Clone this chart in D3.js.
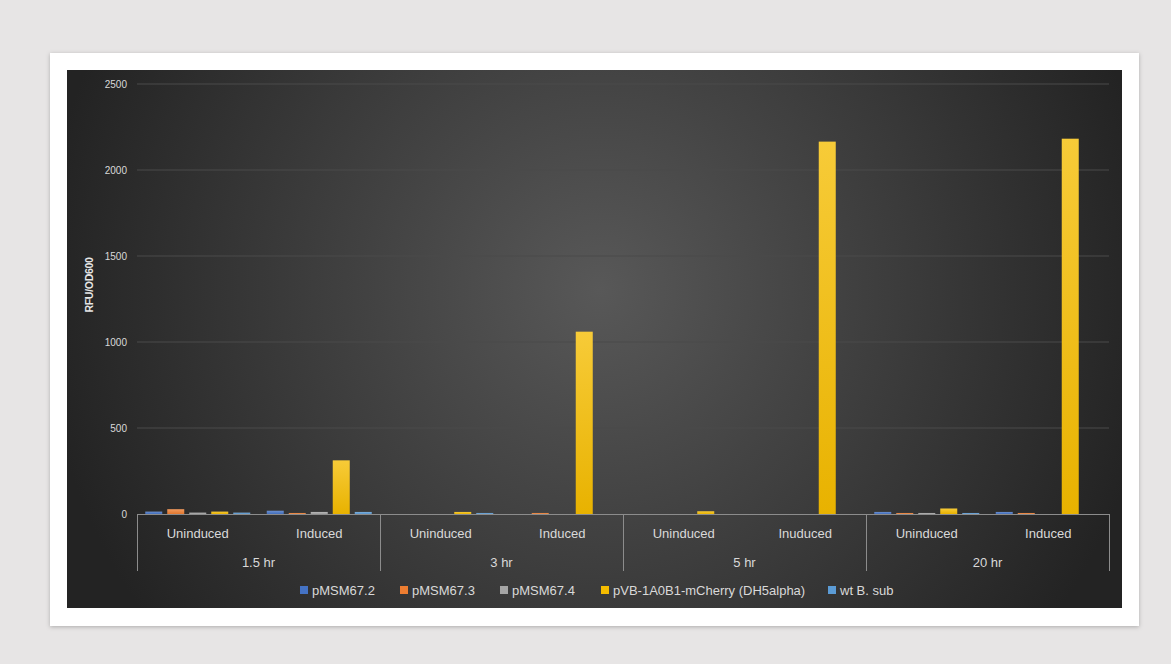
<!DOCTYPE html>
<html>
<head>
<meta charset="utf-8">
<script src="https://cdn.jsdelivr.net/npm/d3@7"></script>
<style>
  body { margin: 0; background: #e7e5e5; }
  svg text { font-family: "Liberation Sans", Arial, sans-serif; }
</style>
</head>
<body>
<div id="app"></div>
<script>
// chart data
const timePoints = ["1.5 hr", "3 hr", "5 hr", "20 hr"];
const conditions = [
  ["Uninduced", "Induced"],
  ["Uninduced", "Induced"],
  ["Uninduced", "Inuduced"],
  ["Uninduced", "Induced"]
];
const seriesNames = ["pMSM67.2", "pMSM67.3", "pMSM67.4", "pVB-1A0B1-mCherry (DH5alpha)", "wt B. sub"];
const seriesColors = ["#4472c4", "#ed7d31", "#a5a5a5", "#f5bc00", "#5b9bd5"];
// values per (time, condition): U, I for each time point
const pMSM67_2 = [14, 19, 0, 0, 0, 0, 12, 12];
const pMSM67_3 = [28, 6, 0, 6, 0, 0, 6, 6];
const pMSM67_4 = [8, 12, 0, 0, 0, 0, 6, 0];
const pVB_mCherry = [14, 312, 12, 1060, 16, 2165, 32, 2182];
const wtBsub = [8, 12, 6, 0, 0, 0, 6, 0];
const yTicks = [0, 500, 1000, 1500, 2000, 2500];

const seriesValues = [pMSM67_2, pMSM67_3, pMSM67_4, pVB_mCherry, wtBsub];

const W = 1171, H = 664;
const plot = { left: 137, right: 1109, top: 84, bottom: 514 };

const svg = d3.select('#app').append('svg')
  .attr('width', W).attr('height', H)
  .style('display', 'block');

const defs = svg.append('defs');

// card shadow
const sh = defs.append('filter').attr('id', 'shadow')
  .attr('x', '-5%').attr('y', '-5%').attr('width', '110%').attr('height', '110%');
sh.append('feDropShadow').attr('dx', 0).attr('dy', 1).attr('stdDeviation', 2)
  .attr('flood-color', '#000').attr('flood-opacity', 0.25);

// dark radial background
const bg = defs.append('radialGradient').attr('id', 'bgGrad')
  .attr('gradientUnits', 'userSpaceOnUse')
  .attr('cx', 600).attr('cy', 290).attr('r', 560);
bg.append('stop').attr('offset', '0%').attr('stop-color', '#585858');
bg.append('stop').attr('offset', '55%').attr('stop-color', '#3b3b3b');
bg.append('stop').attr('offset', '100%').attr('stop-color', '#232323');

// bar gradients (lighter at the top)
seriesColors.forEach((c, i) => {
  const g = defs.append('linearGradient').attr('id', 'bar' + i)
    .attr('x1', 0).attr('y1', 0).attr('x2', 0).attr('y2', 1);
  g.append('stop').attr('offset', '0%').attr('stop-color', d3.interpolateRgb(c, '#ffffff')(0.22));
  g.append('stop').attr('offset', '100%').attr('stop-color', d3.color(c).darker(0.15));
});

// white card and dark chart area
svg.append('rect').attr('x', 50).attr('y', 53).attr('width', 1089).attr('height', 573)
  .attr('fill', '#fff').attr('filter', 'url(#shadow)');
svg.append('rect').attr('x', 67).attr('y', 70).attr('width', 1055).attr('height', 538)
  .attr('fill', 'url(#bgGrad)');

// scales
const y = d3.scaleLinear().domain([0, 2500]).range([plot.bottom, plot.top]);
const x0 = d3.scaleBand().domain(timePoints).range([plot.left, plot.right]);
const x1 = d3.scaleBand().domain([0, 1]).range([0, x0.bandwidth()]);
const x2 = d3.scaleBand().domain(d3.range(seriesNames.length))
  .range([0, x1.bandwidth()]).paddingInner(0.227).paddingOuter(0.375);

// gridlines + y tick labels
const grid = svg.append('g');
grid.selectAll('line').data(yTicks.filter(d => d > 0)).join('line')
  .attr('x1', plot.left).attr('x2', plot.right)
  .attr('y1', d => y(d)).attr('y2', d => y(d))
  .attr('stroke', '#4a4a4a').attr('stroke-width', 1);
grid.selectAll('text').data(yTicks).join('text')
  .attr('x', 127).attr('y', d => y(d)).attr('dy', '0.35em')
  .attr('text-anchor', 'end').attr('font-size', 10).attr('fill', '#d9d9d9')
  .text(d => d);

// y axis title
svg.append('text')
  .attr('transform', `translate(93,${(plot.top + plot.bottom) / 2 - 14}) rotate(-90)`)
  .attr('text-anchor', 'middle').attr('font-size', 10.5).attr('font-weight', 'bold')
  .attr('letter-spacing', '-0.3').attr('fill', '#e6e6e6').text('RFU/OD600');

// bars
const cells = [];
timePoints.forEach((t, ti) => {
  [0, 1].forEach(ci => {
    seriesValues.forEach((vals, si) => {
      cells.push({ t, ci, si, v: vals[ti * 2 + ci] });
    });
  });
});
svg.append('g').selectAll('rect').data(cells.filter(d => d.v > 0)).join('rect')
  .attr('x', d => x0(d.t) + x1(d.ci) + x2(d.si))
  .attr('width', x2.bandwidth())
  .attr('y', d => y(d.v))
  .attr('height', d => y(0) - y(d.v))
  .attr('fill', d => `url(#bar${d.si})`);

// category axis
const axis = svg.append('g').attr('stroke', '#8c8c8c').attr('stroke-width', 1);
axis.append('line').attr('x1', plot.left).attr('x2', plot.right)
  .attr('y1', plot.bottom + 0.5).attr('y2', plot.bottom + 0.5);
const seps = timePoints.map(t => x0(t)).concat([plot.right]);
axis.selectAll('line.sep').data(seps).join('line').attr('class', 'sep')
  .attr('x1', d => Math.round(d) + 0.5).attr('x2', d => Math.round(d) + 0.5)
  .attr('y1', plot.bottom).attr('y2', 571);

const subLabels = [];
timePoints.forEach((t, ti) => conditions[ti].forEach((c, ci) => subLabels.push({ t, ci, c })));
svg.append('g').selectAll('text').data(subLabels).join('text')
  .attr('x', d => x0(d.t) + x1(d.ci) + x1.bandwidth() / 2)
  .attr('y', 533).attr('dy', '0.35em')
  .attr('text-anchor', 'middle').attr('font-size', 13).attr('fill', '#d9d9d9')
  .text(d => d.c);

svg.append('g').selectAll('text').data(timePoints).join('text')
  .attr('x', d => x0(d) + x0.bandwidth() / 2)
  .attr('y', 562).attr('dy', '0.35em')
  .attr('text-anchor', 'middle').attr('font-size', 13).attr('fill', '#d9d9d9')
  .text(d => d);

// legend
const legendX = [300, 400, 500, 601, 828];
const leg = svg.append('g').selectAll('g').data(seriesNames).join('g')
  .attr('transform', (d, i) => `translate(${legendX[i]},590)`);
leg.append('rect').attr('x', 0).attr('y', -4).attr('width', 8).attr('height', 8)
  .attr('fill', (d, i) => seriesColors[i]);
leg.append('text').attr('x', 12).attr('y', 0).attr('dy', '0.35em')
  .attr('font-size', 13).attr('fill', '#d9d9d9').text(d => d);
</script>
</body>
</html>
